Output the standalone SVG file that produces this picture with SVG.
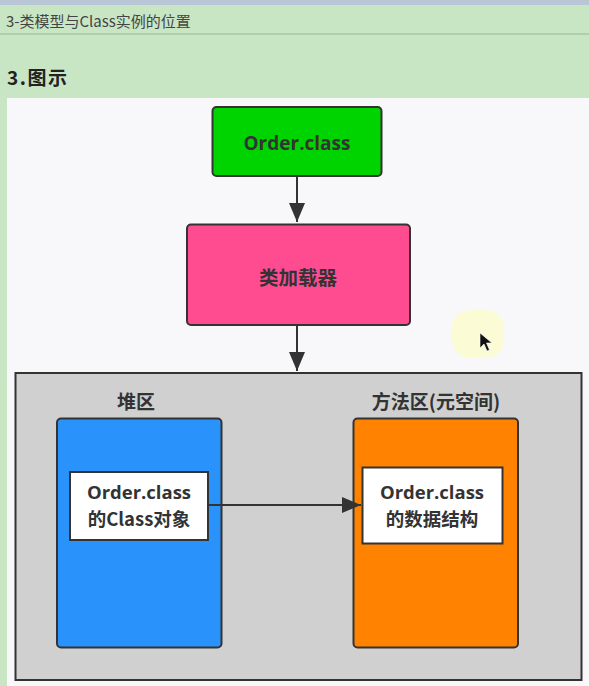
<svg xmlns="http://www.w3.org/2000/svg" width="589" height="686" viewBox="0 0 589 686">
<defs>
<style>
.t{font-family:"Noto Sans CJK SC","Open Sans","Noto Sans",sans-serif;font-weight:bold;fill:#333;text-anchor:middle}
.lat{font-family:"Open Sans","Noto Sans",sans-serif}
.box{stroke:#333;stroke-width:2}
.ln{stroke:#333;stroke-width:2;fill:none}
</style>
<marker id="ahb" markerWidth="20" markerHeight="20" refX="19" refY="8" orient="auto" markerUnits="userSpaceOnUse" viewBox="0 0 20 16">
<path d="M0,0 L19,8 L0,16 z" fill="#333"/>
</marker>
</defs>
<rect x="0" y="0" width="589" height="686" fill="#c8e6c4"/>
<rect x="0" y="0" width="589" height="5" fill="#b9c6d6"/>
<line x1="0" y1="34" x2="589" y2="34" stroke="#9db59a" stroke-width="1.2"/>
<text x="6" y="27" font-family="'Noto Sans CJK SC','Noto Sans',sans-serif" font-size="15" fill="#444">3-类模型与Class实例的位置</text>
<text x="7" y="85" font-family="'Noto Sans CJK SC','Noto Sans',sans-serif" font-size="19" font-weight="bold" fill="#222" letter-spacing="1.5">3.图示</text>
<rect x="7" y="98" width="582" height="588" fill="#f8f8fa"/>
<rect x="452" y="310" width="52" height="48" rx="18" fill="#fbfbd6"/>
<g id="order-class">
<rect class="box" x="212.5" y="107" width="169" height="69" rx="4" fill="#00d400"/>
<text class="t lat" x="297" y="150" font-size="19">Order.class</text>
</g>
<g id="classloader">
<rect class="box" x="187" y="224.5" width="223" height="100.5" rx="4" fill="#ff4c91"/>
<text class="t" x="298" y="285" font-size="19.5">类加载器</text>
</g>
<g id="memory">
<rect class="box" x="15.5" y="373" width="566" height="307" fill="#d0d0d0"/>
</g>
<g id="heap">
<text class="t" x="136" y="409" font-size="19">堆区</text>
<rect class="box" x="57" y="418.5" width="164.5" height="229" rx="4" fill="#2a93fb"/>
</g>
<g id="class-object">
<rect class="box" x="70" y="472" width="138" height="68" fill="#fff"/>
<text class="t" x="139" y="499" font-size="18.5"><tspan class="lat" x="139" y="499">Order.class</tspan><tspan x="139" y="526">的Class对象</tspan></text>
</g>
<g id="method-area">
<text class="t" x="436" y="409" font-size="19">方法区(元空间)</text>
<rect class="box" x="353.5" y="418.5" width="164.5" height="229" rx="4" fill="#ff8300"/>
</g>
<g id="data-structure">
<rect class="box" x="362.5" y="467.5" width="140" height="76" fill="#fff"/>
<text class="t" x="432" y="499" font-size="18.5"><tspan class="lat" x="432" y="499">Order.class</tspan><tspan x="432" y="526">的数据结构</tspan></text>
</g>
<g id="connectors">
<line class="ln" x1="297" y1="176" x2="297" y2="222" marker-end="url(#ahb)"/>
<line class="ln" x1="297" y1="325" x2="297" y2="371" marker-end="url(#ahb)"/>
<line class="ln" x1="208" y1="505" x2="361" y2="505" marker-end="url(#ahb)"/>
</g>
<path d="M480,333 L480,348 L484,344 L487,351 L489.5,350 L486.5,343 L492,343 z" fill="#111" stroke="#fff" stroke-width="0.6"/>
</svg>
